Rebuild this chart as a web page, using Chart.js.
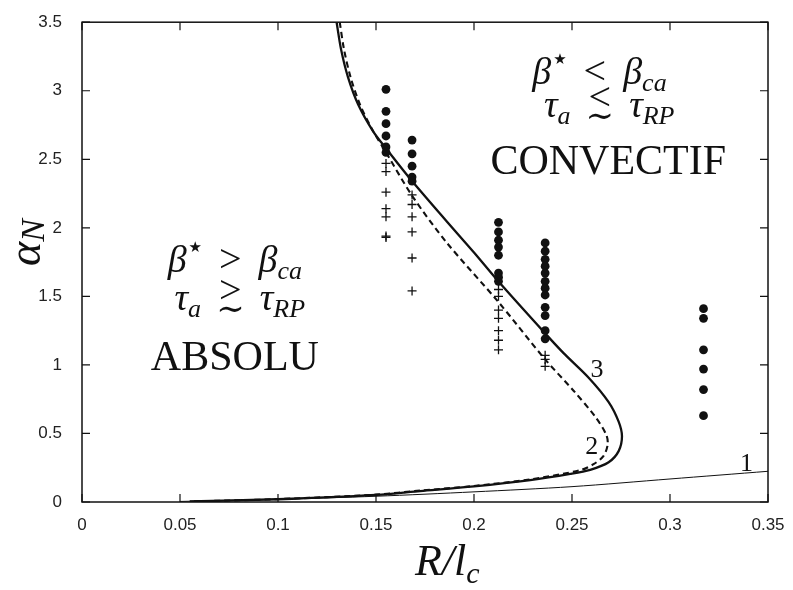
<!DOCTYPE html>
<html>
<head>
<meta charset="utf-8">
<script src="https://cdn.jsdelivr.net/npm/chart.js@4/dist/chart.umd.min.js"></script>
<style>
html,body{margin:0;padding:0;background:#fff;}
#wrap{width:793px;height:590px;}
</style>
</head>
<body>
<div id="wrap"><canvas id="c" width="793" height="590"></canvas></div>
<script>
// ---- tick labels ----
const xTickLabels = ['0','0.05','0.1','0.15','0.2','0.25','0.3','0.35'];
const yTickLabels = ['0','0.5','1','1.5','2','2.5','3','3.5'];

// ---- curve 3 (solid) ----
const curve3X = [0.1299,0.1322,0.1357,0.1409,0.1487,0.1551,0.1673,0.1859,0.2000,0.2124,0.2363,0.2457,0.2585,0.2687,0.2738,0.2755,0.2738,0.2687,0.2593,0.2491,0.2287,0.2000,0.1725,0.1500,0.1000,0.0550];
const curve3Y = [3.50,3.30,3.10,2.90,2.70,2.58,2.36,2.05,1.82,1.61,1.23,1.086,0.907,0.729,0.586,0.479,0.371,0.290,0.235,0.205,0.160,0.114,0.080,0.052,0.020,0.004];

// ---- curve 2 (dashed) ----
const curve2X = [0.1315,0.1337,0.1370,0.1418,0.1480,0.1551,0.1686,0.1859,0.2124,0.2363,0.2508,0.2619,0.2675,0.2682,0.2661,0.2610,0.2542,0.2287,0.2000,0.1725,0.1500,0.1000,0.0550];
const curve2Y = [3.50,3.30,3.10,2.90,2.72,2.55,2.23,1.895,1.46,1.04,0.812,0.621,0.490,0.419,0.336,0.276,0.232,0.165,0.117,0.083,0.054,0.021,0.004];

// ---- curve 1 (thin) ----
const curve1X = [0.05,0.10,0.15,0.20,0.25,0.30,0.35];
const curve1Y = [0.004,0.020,0.042,0.074,0.112,0.168,0.224];

// ---- measurement columns ----
const columnR = [0.1551,0.1684,0.2125,0.2363,0.3171];
const dotsCol1 = [3.01,2.85,2.76,2.67,2.59,2.55];
const dotsCol2 = [2.64,2.54,2.45,2.37,2.34];
const dotsCol3 = [2.04,1.97,1.91,1.86,1.80,1.67,1.64,1.61];
const dotsCol4 = [1.89,1.83,1.77,1.72,1.67,1.61,1.56,1.51,1.42,1.36,1.25,1.19];
const dotsCol5 = [1.41,1.34,1.11,0.97,0.82,0.63];
const crossCol1 = [2.47,2.41,2.26,2.14,2.08,1.94,1.93];
const crossCol2 = [2.24,2.17,2.08,1.97,1.78,1.54];
const crossCol3 = [1.55,1.50,1.40,1.34,1.25,1.18,1.11];
const crossCol4 = [1.07,1.04,0.99];

const zip = (xs, ys) => xs.map((x, i) => ({x, y: ys[i]}));
const col = (r, ys) => ys.map(y => ({x: r, y}));
const dots = [dotsCol1,dotsCol2,dotsCol3,dotsCol4,dotsCol5].flatMap((ys,i)=>col(columnR[i], ys));
const crosses = [crossCol1,crossCol2,crossCol3,crossCol4].flatMap((ys,i)=>col(columnR[i], ys));

const serif = (sz, it) => (it ? 'italic ' : '') + sz + 'px "Liberation Serif", "DejaVu Serif", serif';

function drawRich(ctx, parts, x, y, align) {
  let w = 0;
  parts.forEach(p => { ctx.font = p.f; p.w = p.t ? ctx.measureText(p.t).width : 0; w += p.w + (p.gap || 0); });
  let cx = align === 'left' ? x : x - w / 2;
  ctx.textBaseline = 'alphabetic';
  ctx.textAlign = 'left';
  parts.forEach(p => {
    cx += (p.gap || 0);
    if (p.t) { ctx.font = p.f; ctx.fillText(p.t, cx, y + (p.dy || 0)); }
    if (p.under) {
      ctx.font = p.under.f;
      const uw = ctx.measureText(p.under.t).width;
      ctx.fillText(p.under.t, cx + (p.w - uw) / 2, y + p.under.dy);
    }
    cx += p.w;
  });
}

const textPlugin = {
  id: 'texts',
  afterDraw(chart) {
    const ctx = chart.ctx, xs = chart.scales.x, ys = chart.scales.y;
    const ca = chart.chartArea;
    ctx.save();
    // frame
    ctx.strokeStyle = '#111';
    ctx.lineWidth = 1.5;
    ctx.strokeRect(ca.left, ca.top, ca.right - ca.left, ca.bottom - ca.top);
    // inward ticks on all four sides
    ctx.lineWidth = 1.2;
    const tl = 8;
    xs.ticks.forEach((t, i) => {
      const px = xs.getPixelForTick(i);
      ctx.beginPath();
      ctx.moveTo(px, ca.bottom); ctx.lineTo(px, ca.bottom - tl);
      ctx.moveTo(px, ca.top); ctx.lineTo(px, ca.top + tl);
      ctx.stroke();
    });
    ys.ticks.forEach((t, i) => {
      const py = ys.getPixelForTick(i);
      ctx.beginPath();
      ctx.moveTo(ca.left, py); ctx.lineTo(ca.left + tl, py);
      ctx.moveTo(ca.right, py); ctx.lineTo(ca.right - tl, py);
      ctx.stroke();
    });

    ctx.fillStyle = '#111';
    const P = (x, y) => [xs.getPixelForValue(x), ys.getPixelForValue(y)];

    // region labels
    let p = P(0.2685, 2.393);
    ctx.font = serif(42, false); ctx.textAlign = 'center'; ctx.textBaseline = 'alphabetic';
    ctx.fillText('CONVECTIF', p[0], p[1]);
    p = P(0.0780, 0.964);
    ctx.fillText('ABSOLU', p[0], p[1]);

    const big = serif(38, true), sub = serif(26, true), rel = serif(40, false);
    const star = '15px "DejaVu Sans", sans-serif';
    const tilde = serif(34, false);
    p = P(0.264, 3.05);
    drawRich(ctx, [{t:'β', f:big},{t:'★', f:star, dy:-20, gap:2},{t:'<', f:rel, gap:17},{t:'β', f:big, gap:17},{t:'ca', f:sub, dy:7}], p[0], p[1]);
    p = P(0.269, 2.81);
    drawRich(ctx, [{t:'τ', f:big},{t:'a', f:sub, dy:7},{t:'<', f:rel, dy:-7, gap:18, under:{t:'∼', f:tilde, dy:10}},{t:'τ', f:big, gap:18},{t:'RP', f:sub, dy:7}], p[0], p[1]);
    p = P(0.078, 1.679);
    drawRich(ctx, [{t:'β', f:big},{t:'★', f:star, dy:-20, gap:2},{t:'>', f:rel, gap:17},{t:'β', f:big, gap:17},{t:'ca', f:sub, dy:7}], p[0], p[1]);
    p = P(0.0805, 1.40);
    drawRich(ctx, [{t:'τ', f:big},{t:'a', f:sub, dy:7},{t:'>', f:rel, dy:-7, gap:18, under:{t:'∼', f:tilde, dy:10}},{t:'τ', f:big, gap:18},{t:'RP', f:sub, dy:7}], p[0], p[1]);

    // curve labels
    ctx.font = serif(26, false); ctx.textAlign = 'center'; ctx.textBaseline = 'alphabetic';
    p = P(0.339, 0.229); ctx.fillText('1', p[0], p[1]);
    p = P(0.2601, 0.352); ctx.fillText('2', p[0], p[1]);
    p = P(0.2627, 0.914); ctx.fillText('3', p[0], p[1]);

    // axis titles
    drawRich(ctx, [{t:'R/l', f:serif(44, true)},{t:'c', f:serif(30, true), dy:8}], 415, 575, 'left');
    ctx.translate(40, 266);
    ctx.rotate(-Math.PI / 2);
    drawRich(ctx, [{t:'α', f:serif(46, true)},{t:'N', f:serif(34, true), dy:4}], 0, 0, 'left');
    ctx.restore();
  }
};

const tickFont = {family: '"Liberation Sans", Arial, sans-serif', size: 17};

new Chart(document.getElementById('c'), {
  type: 'scatter',
  data: {
    datasets: [
      {label: '3', data: zip(curve3X, curve3Y), showLine: true, tension: 0.3, borderColor: '#111', borderWidth: 2.3, pointRadius: 0, fill: false},
      {label: '2', data: zip(curve2X, curve2Y), showLine: true, tension: 0.3, borderColor: '#111', borderWidth: 2.1, borderDash: [6, 4], pointRadius: 0, fill: false},
      {label: '1', data: zip(curve1X, curve1Y), showLine: true, tension: 0.3, borderColor: '#111', borderWidth: 1, pointRadius: 0, fill: false},
      {label: 'dots', data: dots, showLine: false, pointStyle: 'circle', pointRadius: 4.4, backgroundColor: '#111', borderColor: '#111', borderWidth: 0},
      {label: 'crosses', data: crosses, showLine: false, pointStyle: 'cross', pointRadius: 4.5, borderColor: '#111', borderWidth: 1.3}
    ]
  },
  options: {
    responsive: false,
    animation: false,
    events: [],
    layout: {padding: {top: 12, right: 25, left: 0, bottom: 0}},
    plugins: {legend: {display: false}, tooltip: {enabled: false}},
    scales: {
      x: {
        type: 'linear', min: 0, max: 0.35,
        grid: {display: false},
        border: {display: false},
        ticks: {stepSize: 0.05, padding: 5, color: '#222', font: tickFont, maxRotation: 0,
          callback: (v, i) => xTickLabels[i]},
        afterFit: s => { s.height = 88; }
      },
      y: {
        type: 'linear', min: 0, max: 3.5,
        grid: {display: false},
        border: {display: false},
        ticks: {stepSize: 0.5, padding: 12, color: '#222', font: tickFont,
          callback: (v, i) => yTickLabels[i]},
        afterFit: s => { s.width = 82; }
      }
    }
  },
  plugins: [textPlugin]
});
</script>
</body>
</html>
